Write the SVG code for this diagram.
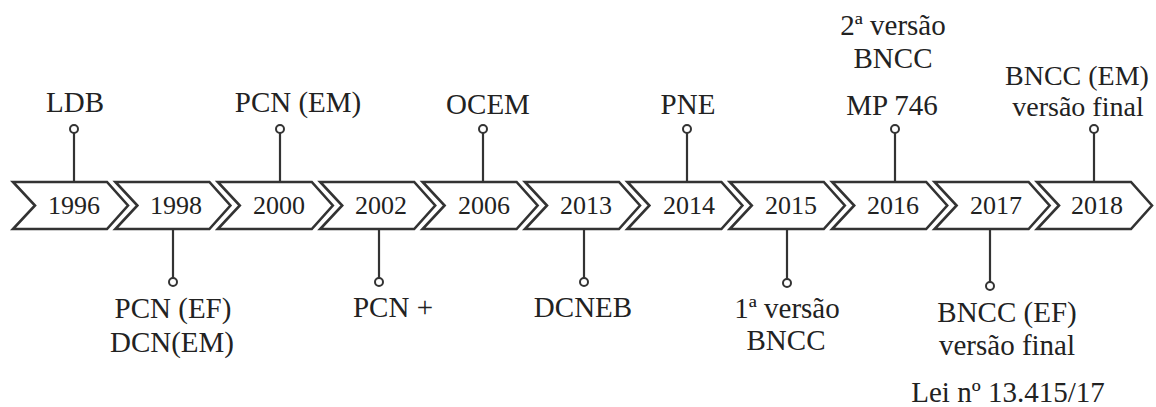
<svg xmlns="http://www.w3.org/2000/svg" width="1156" height="407" viewBox="0 0 1156 407">
<style>
.chev{fill:#fff;stroke:#333;stroke-width:2.6;stroke-linejoin:miter}
text{font-family:'Liberation Serif','Times New Roman',Times,serif;fill:#222;text-anchor:middle}
.yr{font-size:26px}
.lb{font-size:29px}
.sm{font-size:28px}
.ln{stroke:#333;stroke-width:2.2;fill:none}
.dot{fill:#fff;stroke:#333;stroke-width:2}
</style>
<rect width="1156" height="407" fill="#fff"/>
<g id="connectors">
<line class="ln" x1="74" y1="133" x2="74" y2="182"/>
<line class="ln" x1="280" y1="133" x2="280" y2="182"/>
<line class="ln" x1="483" y1="133" x2="483" y2="182"/>
<line class="ln" x1="687" y1="133" x2="687" y2="182"/>
<line class="ln" x1="895" y1="133" x2="895" y2="182"/>
<line class="ln" x1="1094" y1="133" x2="1094" y2="182"/>
<line class="ln" x1="173" y1="229" x2="173" y2="278"/>
<line class="ln" x1="379" y1="229" x2="379" y2="278"/>
<line class="ln" x1="584" y1="229" x2="584" y2="278"/>
<line class="ln" x1="787" y1="229" x2="787" y2="279"/>
<line class="ln" x1="990" y1="229" x2="990" y2="282"/>
<circle class="dot" cx="74" cy="129" r="4"/>
<circle class="dot" cx="280" cy="129" r="4"/>
<circle class="dot" cx="483" cy="129" r="4"/>
<circle class="dot" cx="687" cy="129" r="4"/>
<circle class="dot" cx="895" cy="129" r="4"/>
<circle class="dot" cx="1094" cy="129" r="4"/>
<circle class="dot" cx="173" cy="282" r="4"/>
<circle class="dot" cx="379" cy="282" r="4"/>
<circle class="dot" cx="584" cy="282" r="4"/>
<circle class="dot" cx="787" cy="283" r="4"/>
<circle class="dot" cx="990" cy="286" r="4"/>
</g>
<g id="y1996"><polygon class="chev" points="13,182 107,182 128,205.5 107,229 13,229 35,205.5"/><text class="yr" x="74" y="214">1996</text></g>
<g id="y1998"><polygon class="chev" points="115.4,182 209.4,182 230.4,205.5 209.4,229 115.4,229 137.4,205.5"/><text class="yr" x="176" y="214">1998</text></g>
<g id="y2000"><polygon class="chev" points="217.8,182 311.8,182 332.8,205.5 311.8,229 217.8,229 239.8,205.5"/><text class="yr" x="279" y="214">2000</text></g>
<g id="y2002"><polygon class="chev" points="320.2,182 414.2,182 435.2,205.5 414.2,229 320.2,229 342.2,205.5"/><text class="yr" x="381" y="214">2002</text></g>
<g id="y2006"><polygon class="chev" points="422.6,182 516.6,182 537.6,205.5 516.6,229 422.6,229 444.6,205.5"/><text class="yr" x="484" y="214">2006</text></g>
<g id="y2013"><polygon class="chev" points="525,182 619,182 640,205.5 619,229 525,229 547,205.5"/><text class="yr" x="586" y="214">2013</text></g>
<g id="y2014"><polygon class="chev" points="627.4,182 721.4,182 742.4,205.5 721.4,229 627.4,229 649.4,205.5"/><text class="yr" x="689" y="214">2014</text></g>
<g id="y2015"><polygon class="chev" points="729.8,182 823.8,182 844.8,205.5 823.8,229 729.8,229 751.8,205.5"/><text class="yr" x="791" y="214">2015</text></g>
<g id="y2016"><polygon class="chev" points="832.2,182 926.2,182 947.2,205.5 926.2,229 832.2,229 854.2,205.5"/><text class="yr" x="893" y="214">2016</text></g>
<g id="y2017"><polygon class="chev" points="934.6,182 1028.6,182 1049.6,205.5 1028.6,229 934.6,229 956.6,205.5"/><text class="yr" x="996" y="214">2017</text></g>
<g id="y2018"><polygon class="chev" points="1037,182 1131,182 1152,205.5 1131,229 1037,229 1059,205.5"/><text class="yr" x="1097" y="214">2018</text></g>
<g id="label-ldb"><text class="lb" x="75" y="112">LDB</text></g>
<g id="label-pcn-em"><text class="lb" x="298" y="112">PCN (EM)</text></g>
<g id="label-ocem"><text class="lb" x="488" y="114">OCEM</text></g>
<g id="label-pne"><text class="lb" x="688" y="114">PNE</text></g>
<g id="label-2016"><text class="lb" x="893" y="35">2ª versão</text><text class="lb" x="893" y="68">BNCC</text><text class="lb" x="892" y="115">MP 746</text></g>
<g id="label-2018"><text class="sm" x="1077" y="85">BNCC (EM)</text><text class="sm" x="1078" y="116">versão final</text></g>
<g id="label-1998"><text class="lb" x="173" y="318">PCN (EF)</text><text class="lb" x="172" y="352">DCN(EM)</text></g>
<g id="label-2002"><text class="lb" x="393" y="317">PCN +</text></g>
<g id="label-2013"><text class="lb" x="583" y="317">DCNEB</text></g>
<g id="label-2015"><text class="lb" x="787" y="318">1ª versão</text><text class="lb" x="786" y="350">BNCC</text></g>
<g id="label-2017"><text class="lb" x="1007" y="322">BNCC (EF)</text><text class="lb" x="1007" y="355">versão final</text><text class="lb" x="1008" y="402">Lei nº 13.415/17</text></g>
</svg>
